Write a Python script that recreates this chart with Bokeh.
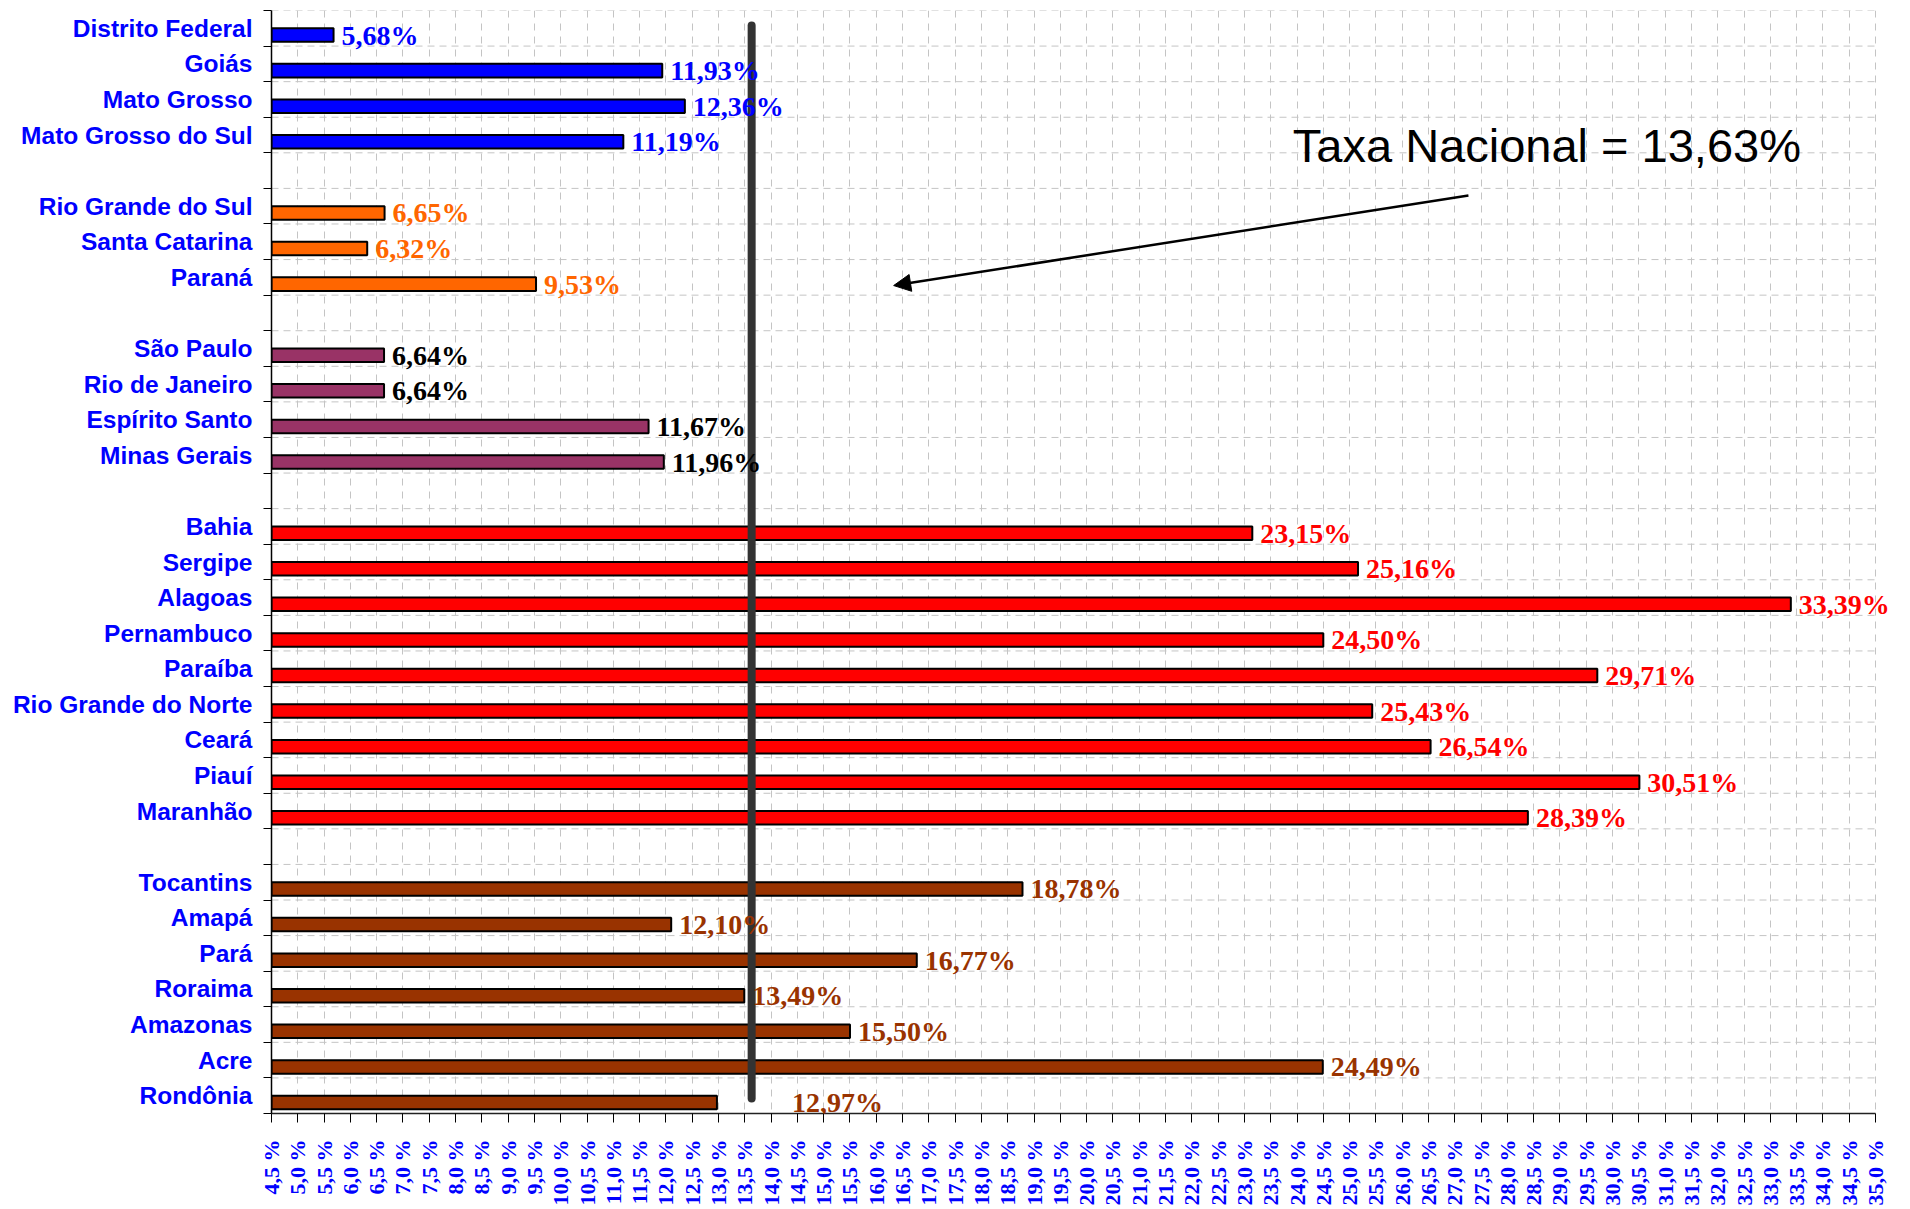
from bokeh.plotting import figure
from bokeh.models import (ColumnDataSource, FixedTicker, Range1d, Arrow, NormalHead, Label, LabelSet)
from bokeh.embed import file_html
from bokeh.resources import INLINE
import math

# ---------------- data ----------------
centro_oeste = ["Distrito Federal", "Goiás", "Mato Grosso", "Mato Grosso do Sul"]
centro_oeste_vals = [5.68, 11.93, 12.36, 11.19]

sul = ["Rio Grande do Sul", "Santa Catarina", "Paraná"]
sul_vals = [6.65, 6.32, 9.53]

sudeste = ["São Paulo", "Rio de Janeiro", "Espírito Santo", "Minas Gerais"]
sudeste_vals = [6.64, 6.64, 11.67, 11.96]

nordeste = ["Bahia", "Sergipe", "Alagoas", "Pernambuco", "Paraíba",
            "Rio Grande do Norte", "Ceará", "Piauí", "Maranhão"]
nordeste_vals = [23.15, 25.16, 33.39, 24.50, 29.71, 25.43, 26.54, 30.51, 28.39]

norte = ["Tocantins", "Amapá", "Pará", "Roraima", "Amazonas", "Acre", "Rondônia"]
norte_vals = [18.78, 12.10, 16.77, 13.49, 15.50, 24.49, 12.97]

taxa_nacional = 13.63
annotation_text = "Taxa Nacional = 13,63%"

x_tick_labels = ["4,5 %", "5,0 %", "5,5 %", "6,0 %", "6,5 %", "7,0 %", "7,5 %", "8,0 %",
                 "8,5 %", "9,0 %", "9,5 %", "10,0 %", "10,5 %", "11,0 %", "11,5 %", "12,0 %",
                 "12,5 %", "13,0 %", "13,5 %", "14,0 %", "14,5 %", "15,0 %", "15,5 %", "16,0 %",
                 "16,5 %", "17,0 %", "17,5 %", "18,0 %", "18,5 %", "19,0 %", "19,5 %", "20,0 %",
                 "20,5 %", "21,0 %", "21,5 %", "22,0 %", "22,5 %", "23,0 %", "23,5 %", "24,0 %",
                 "24,5 %", "25,0 %", "25,5 %", "26,0 %", "26,5 %", "27,0 %", "27,5 %", "28,0 %",
                 "28,5 %", "29,0 %", "29,5 %", "30,0 %", "30,5 %", "31,0 %", "31,5 %", "32,0 %",
                 "32,5 %", "33,0 %", "33,5 %", "34,0 %", "34,5 %", "35,0 %"]
x_ticks = [float(s.replace(" %", "").replace(",", ".")) for s in x_tick_labels]

# ---------------- styles ----------------
groups = [
    (centro_oeste, centro_oeste_vals, "#0000FF", "#0000FF"),
    (sul, sul_vals, "#FF6600", "#FF6600"),
    (sudeste, sudeste_vals, "#993366", "#000000"),
    (nordeste, nordeste_vals, "#FF0000", "#FF0000"),
    (norte, norte_vals, "#993300", "#993300"),
]
label_shift = {"Rondônia": 67}  # label moved right of the national line

names, vals, ypos, fills, tcolors, texts, xoff = [], [], [], [], [], [], []
row = 0
centers = {}
for gi, (cats, vs, fc, tc) in enumerate(groups):
    if gi > 0:
        row += 1  # blank band between regions
    for c, v in zip(cats, vs):
        centers[row + 0.5] = c
        names.append(c)
        vals.append(v)
        ypos.append(row + 0.5 + 0.19)
        fills.append(fc)
        tcolors.append(tc)
        texts.append(f"{v:.2f}".replace(".", ",") + "%")
        xoff.append(8 + label_shift.get(c, 0))
        row += 1
n_rows = row  # 31
boundaries = list(range(0, n_rows + 1))

src = ColumnDataSource(dict(name=names, value=vals, y=ypos, fill=fills,
                            tcolor=tcolors, text=texts, xoff=xoff))

x0, x1 = x_ticks[0], x_ticks[-1]
# frame extends a little past the last tick so the last value label is not clipped
x_end = x0 + (x1 - x0) * 1631.0 / 1604.0
p = figure(width=1902, height=1209, output_backend="svg", toolbar_location=None,
           x_range=Range1d(x0, x_end), y_range=Range1d(n_rows, 0),
           min_border_left=271, min_border_right=0, min_border_top=10, min_border_bottom=96)
p.outline_line_color = None
p.background_fill_color = "white"
p.border_fill_color = "white"

# vertical grid
p.xgrid.ticker = FixedTicker(ticks=x_ticks)
p.xgrid.grid_line_color = "#c4c4c4"
p.xgrid.grid_line_dash = "7 6"
p.xgrid.grid_line_width = 1

# horizontal grid (drawn only up to the last tick)
p.ygrid.grid_line_color = None
p.segment(x0=[x0] * len(boundaries), x1=[x1] * len(boundaries), y0=boundaries, y1=boundaries,
          line_color="#c4c4c4", line_dash="7 5", line_width=1)

# y axis
yt = FixedTicker(ticks=sorted(centers.keys()), minor_ticks=boundaries)
p.yaxis.ticker = yt
p.yaxis.major_label_overrides = centers
p.yaxis.major_tick_out = 0
p.yaxis.major_tick_in = 0
p.yaxis.minor_tick_out = 8
p.yaxis.minor_tick_in = 0
p.yaxis.minor_tick_line_color = "black"
p.yaxis.major_label_standoff = 11
p.yaxis.major_label_text_font = "Liberation Sans"
p.yaxis.major_label_text_font_style = "bold"
p.yaxis.major_label_text_font_size = "24.5px"
p.yaxis.major_label_text_color = "#0000FF"
p.yaxis.axis_line_color = "black"
p.yaxis.axis_line_width = 1.5

# x axis
p.xaxis.ticker = FixedTicker(ticks=x_ticks)
p.xaxis.bounds = (x0, x1)
p.xaxis.major_label_overrides = {t: s for t, s in zip(x_ticks, x_tick_labels)}
p.xaxis.major_label_orientation = math.pi / 2
p.xaxis.major_label_text_font = "Liberation Serif"
p.xaxis.major_label_text_font_style = "bold"
p.xaxis.major_label_text_font_size = "22px"
p.xaxis.major_label_text_color = "#0000FF"
p.xaxis.major_tick_out = 9
p.xaxis.major_tick_in = 0
p.xaxis.minor_tick_line_color = None
p.xaxis.major_label_standoff = 17
p.xaxis.axis_line_color = "#222222"
p.xaxis.axis_line_width = 1.5

# bars
p.hbar(y="y", left=x0, right="value", height=0.38, source=src,
       fill_color="fill", line_color="black", line_width=2)

# value labels
p.add_layout(LabelSet(x="value", y="y", text="text", source=src, x_offset="xoff",
                      text_color="tcolor", text_font="Liberation Serif",
                      text_font_style="bold", text_font_size="28px",
                      text_align="left", text_baseline="middle"))

# national rate line
p.segment(x0=[taxa_nacional], y0=[0.42], x1=[taxa_nacional], y1=[n_rows - 0.42],
          line_color="#333333", line_width=8, line_cap="round")

# annotation
p.add_layout(Label(x=23.92, y=3.79, text=annotation_text, text_font="Liberation Sans",
                   text_font_size="47px", text_color="black",
                   text_align="left", text_baseline="middle"))
p.add_layout(Arrow(end=NormalHead(size=17, fill_color="black", line_color="black"),
                   x_start=27.26, y_start=5.20, x_end=16.33, y_end=7.73,
                   line_color="black", line_width=2.5))

open("out.html", "w").write(file_html(p, INLINE))
